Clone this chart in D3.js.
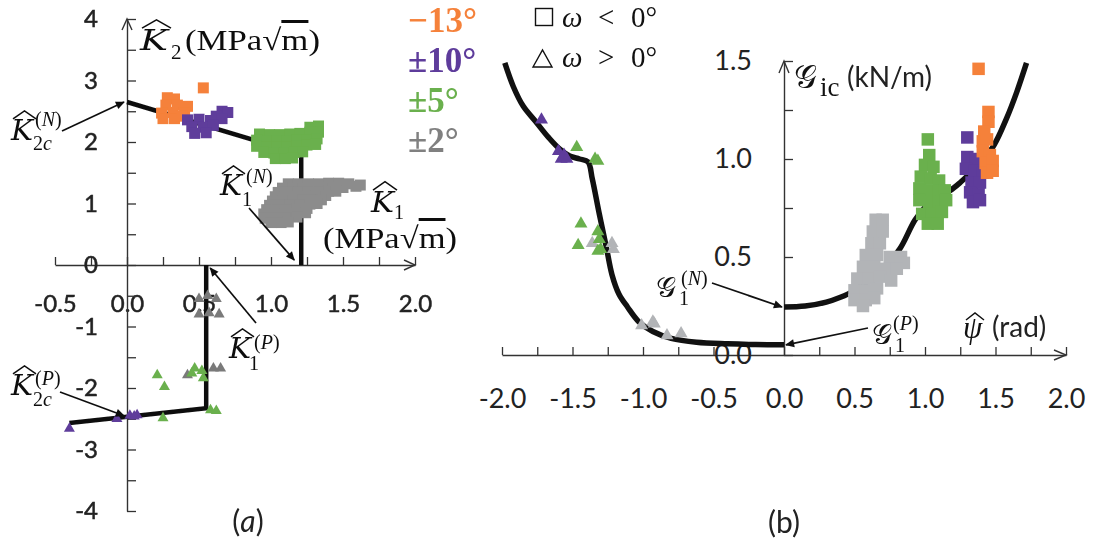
<!DOCTYPE html>
<html>
<head>
<meta charset="utf-8">
<script src="https://cdn.jsdelivr.net/npm/d3@7"></script>
<style>
  html, body { margin: 0; padding: 0; background: #fff; }
  svg { display: block; }
</style>
</head>
<body>
<svg id="fig" width="1096" height="549"></svg>
<script>
// ---------- Panel (a): K1-K2 plane ----------
const aTicksX = d3.range(-0.5, 2.001, 0.25);
const aTicksY = d3.range(-4, 4.001, 0.5);
// failure envelope, negative (N) and positive (P) branches
const aLineNeg = [[0, 2.65], [1.21, 1.80], [1.21, 0]];
const aLinePos = [[-0.40, -2.57], [0.55, -2.33], [0.55, 0]];
// omega < 0 (squares)
const aSqOrange = [[0.28,2.72],[0.33,2.70],[0.27,2.60],[0.35,2.60],[0.42,2.58],[0.24,2.47],[0.32,2.48],[0.40,2.47],[0.25,2.38],[0.33,2.38],[0.38,2.42],[0.53,2.88]];
const aSqPurple = [[0.66,2.50],[0.70,2.48],[0.62,2.42],[0.42,2.36],[0.50,2.37],[0.58,2.35],[0.66,2.38],[0.45,2.25],[0.53,2.24],[0.60,2.27],[0.47,2.14],[0.55,2.15]];
const aSqGreen = [[1.27,2.24],[1.33,2.26],
  [0.92,2.13],[0.99,2.12],[1.06,2.12],[1.13,2.13],[1.20,2.14],[1.27,2.16],[1.33,2.16],
  [0.90,2.03],[0.97,2.02],[1.04,2.02],[1.11,2.02],[1.18,2.03],[1.25,2.04],[1.32,2.05],
  [0.90,1.93],[0.97,1.92],[1.04,1.92],[1.11,1.92],[1.18,1.93],[1.25,1.95],[1.31,1.96],
  [0.95,1.83],[1.02,1.82],[1.09,1.82],[1.16,1.83],[1.22,1.84],
  [1.03,1.73],[1.10,1.73],[1.15,1.74]];
const aSqGray = [[1.12,1.32],[1.19,1.32],[1.26,1.32],[1.33,1.32],[1.40,1.33],[1.47,1.33],[1.54,1.32],[1.59,1.28],[1.62,1.30],
  [1.08,1.25],[1.15,1.25],[1.22,1.25],[1.29,1.26],[1.36,1.26],[1.43,1.26],[1.50,1.26],
  [1.05,1.18],[1.12,1.18],[1.19,1.18],[1.26,1.19],[1.33,1.19],[1.40,1.20],[1.45,1.20],
  [1.03,1.11],[1.10,1.11],[1.17,1.11],[1.24,1.12],[1.31,1.12],[1.38,1.13],
  [1.01,1.04],[1.08,1.04],[1.15,1.04],[1.22,1.05],[1.29,1.05],[1.35,1.06],
  [0.99,0.97],[1.06,0.97],[1.13,0.97],[1.20,0.98],[1.27,0.99],[1.32,1.00],
  [0.97,0.90],[1.04,0.90],[1.11,0.90],[1.18,0.91],[1.25,0.92],
  [0.95,0.83],[1.03,0.83],[1.10,0.83],[1.17,0.84],[1.24,0.85],
  [0.96,0.76],[1.03,0.76],[1.10,0.77],[1.18,0.78],
  [1.00,0.69],[1.07,0.69],[1.12,0.70]];
// omega > 0 (triangles)
const aTriGray = [[0.50,-0.55],[0.56,-0.50],[0.62,-0.55],[0.50,-0.80],[0.57,-0.78],[0.64,-0.80],[0.42,-1.79],[0.60,-1.68],[0.65,-1.68]];
const aTriGreen = [[0.21,-1.79],[0.26,-1.98],[0.47,-1.68],[0.45,-1.76],[0.53,-1.84],[0.52,-1.72],[0.58,-2.36],[0.62,-2.37],[0.25,-2.49]];
const aTriPurple = [[-0.40,-2.66],[-0.07,-2.50],[0.02,-2.45],[0.07,-2.44],[0.05,-2.46]];

// ---------- Panel (b): G_ic versus psi ----------
const bTicksX = d3.range(-2, 2.001, 0.25);
const bTicksY = d3.range(0, 1.501, 0.25);
const bCurveNeg = [[-1.98,1.49],[-1.92,1.37],[-1.85,1.27],[-1.76,1.19],[-1.67,1.11],[-1.59,1.05],[-1.52,1.015],[-1.45,1.0],[-1.39,0.985],[-1.36,0.90],[-1.31,0.72],[-1.26,0.55],[-1.22,0.41],[-1.17,0.31],[-1.11,0.245],[-1.03,0.17],[-0.93,0.12],[-0.80,0.085],[-0.62,0.065],[-0.40,0.057],[-0.20,0.053],[0,0.052]];
const bCurvePos = [[0,0.245],[0.15,0.25],[0.30,0.27],[0.40,0.295],[0.49,0.325],[0.60,0.38],[0.70,0.44],[0.82,0.54],[0.93,0.69],[1.02,0.77],[1.09,0.81],[1.18,0.84],[1.25,0.88],[1.35,0.95],[1.48,1.06],[1.58,1.21],[1.65,1.34],[1.72,1.49]];
const bSqGray = [[0.65,0.69],[0.70,0.69],[0.63,0.63],[0.70,0.63],[0.62,0.57],[0.68,0.57],[0.58,0.51],[0.66,0.51],[0.75,0.50],[0.83,0.50],[0.85,0.47],[0.56,0.45],[0.64,0.45],[0.72,0.44],[0.80,0.44],[0.52,0.39],[0.60,0.39],[0.68,0.40],[0.76,0.38],[0.50,0.33],[0.58,0.33],[0.66,0.34],[0.50,0.28],[0.58,0.28],[0.64,0.29],[0.56,0.25]];
const bSqGreen = [[1.02,1.10],[1.03,1.02],[1.00,0.97],[1.06,0.96],[0.97,0.91],[1.04,0.90],[1.10,0.89],[0.96,0.85],[1.03,0.84],[1.10,0.84],[1.14,0.84],[0.96,0.79],[1.03,0.78],[1.10,0.78],[1.15,0.79],[0.98,0.72],[1.05,0.72],[1.12,0.73],[1.02,0.67],[1.09,0.67]];
const bSqPurple = [[1.30,1.11],[1.30,1.01],[1.36,1.00],[1.29,0.95],[1.35,0.94],[1.41,0.93],[1.33,0.88],[1.39,0.88],[1.32,0.83],[1.38,0.82],[1.34,0.78],[1.39,0.79]];
const bSqOrange = [[1.38,1.46],[1.45,1.24],[1.45,1.19],[1.42,1.14],[1.41,1.09],[1.44,1.10],[1.41,1.04],[1.46,1.02],[1.43,0.98],[1.48,0.99],[1.44,0.93],[1.48,0.94]];
const bTriPurple = [[-1.72,1.20],[-1.60,1.04],[-1.56,1.02],[-1.58,1.00],[-1.54,1.00]];
const bTriGray = [[-1.36,0.57],[-1.22,0.57],[-1.21,0.54],[-1.01,0.15],[-0.93,0.17],[-0.92,0.16],[-0.83,0.10],[-0.73,0.11]];
const bTriGreen = [[-1.47,1.06],[-1.34,1.00],[-1.32,0.99],[-1.44,0.67],[-1.46,0.56],[-1.32,0.63],[-1.31,0.59],[-1.32,0.53],[-1.30,0.54]];

// legend
const legendLabels = ["\u221213\u00b0", "\u00b110\u00b0", "\u00b15\u00b0", "\u00b12\u00b0"];
const col = { orange: "#F5813A", purple: "#5E3C9B", green: "#6AB04D", grayA: "#8C8C8C", grayB: "#B2B4B7", grayText: "#808080", ink: "#111" };
const legendColors = [col.orange, col.purple, col.green, col.grayText];

const svg = d3.select("#fig");
const defs = svg.append("defs");
defs.append("filter").attr("id", "soft")
  .append("feGaussianBlur").attr("stdDeviation", 0.55);
defs.append("marker").attr("id", "ah")
  .attr("viewBox", "0 0 10 10").attr("refX", 9).attr("refY", 5)
  .attr("markerWidth", 11).attr("markerHeight", 9).attr("markerUnits", "userSpaceOnUse")
  .attr("orient", "auto")
  .append("path").attr("d", "M0,0.5L10,5L0,9.5Z").attr("fill", col.ink);

function txt(g, x, y, s, o = {}) {
  return g.append("text").attr("x", x).attr("y", y)
    .attr("font-family", o.family || "Liberation Serif")
    .attr("font-size", o.size || 28)
    .attr("font-style", o.italic ? "italic" : "normal")
    .attr("font-weight", o.bold ? "bold" : "normal")
    .attr("fill", o.fill || col.ink)
    .attr("text-anchor", o.anchor || "start")
    .text(s);
}
// italic capital with a wide hat, as in the K-hat symbols
function kHat(g, x, y, size, w) {
  g.append("path").attr("d", `M${x + 2},${y - size * 0.78}L${x + 2 + w / 2},${y - size * 1.08}L${x + 2 + w},${y - size * 0.78}`)
    .attr("fill", "none").attr("stroke", col.ink).attr("stroke-width", 1.5);
  return txt(g, x, y, "K", { italic: true, size: size, family: "DejaVu Serif" })
    .attr("textLength", w - 1).attr("lengthAdjust", "spacingAndGlyphs");
}
function hat(g, x, y, w, h) {
  g.append("path").attr("d", `M${x},${y + h}L${x + w / 2},${y}L${x + w},${y + h}`)
    .attr("fill", "none").attr("stroke", col.ink).attr("stroke-width", 1.5);
}
function paren(g, x, y, letter, size) {
  const t = txt(g, x, y, "(", { size: size });
  t.append("tspan").attr("font-style", "italic").text(letter);
  t.append("tspan").text(")");
  return t;
}
function pointer(g, x1, y1, x2, y2) {
  g.append("line").attr("x1", x1).attr("y1", y1).attr("x2", x2).attr("y2", y2)
    .attr("stroke", col.ink).attr("stroke-width", 1.7).attr("marker-end", "url(#ah)");
}
function styleAxis(g, size, heavy) {
  g.select(".domain").attr("stroke", "#333").attr("stroke-width", 1.4);
  g.selectAll(".tick line").attr("stroke", "#333").attr("stroke-width", 1.3);
  const t = g.selectAll(".tick text").attr("font-family", "Lato").attr("font-size", size).attr("fill", "#222");
  if (heavy) t.attr("stroke", "#222").attr("stroke-width", 0.5);
}
const isHalf = d => Math.abs(d * 2 - Math.round(d * 2)) < 1e-6;
const isInt = d => Math.abs(d - Math.round(d)) < 1e-6;
const sq = s => d3.symbol(d3.symbolSquare, s * s);
const tri = s => d3.symbol(d3.symbolTriangle, s * s * 0.433);

function marks(g, data, sx, sy, sym, fill) {
  g.append("g").selectAll("path").data(data).join("path")
    .attr("transform", d => `translate(${sx(d[0])},${sy(d[1])})`)
    .attr("d", sym()).attr("fill", fill);
}
function unitText(g, x, y, len) {
  const t = txt(g, x, y, "(MPa\u221A", { size: 30 });
  t.append("tspan").attr("text-decoration", "overline").text("m");
  t.append("tspan").text(")");
  t.attr("textLength", len).attr("lengthAdjust", "spacingAndGlyphs");
}

// ================= Panel (a) =================
const xA = d3.scaleLinear().domain([-0.5, 2]).range([55, 415]);
const yA = d3.scaleLinear().domain([-4, 4]).range([511, 19]);
const gA = svg.append("g").attr("filter", "url(#soft)");

const axAx = gA.append("g").attr("transform", `translate(0,${yA(0)})`)
  .call(d3.axisBottom(xA).tickValues(aTicksX).tickSize(-8).tickSizeOuter(0).tickPadding(30)
    .tickFormat(d => isHalf(d) ? d.toFixed(1) : ""));
styleAxis(axAx, 24, true);
const axAy = gA.append("g").attr("transform", `translate(${xA(0)},0)`)
  .call(d3.axisLeft(yA).tickValues(aTicksY).tickSize(-9).tickSizeOuter(0).tickPadding(29)
    .tickFormat(d => isInt(d) ? String(Math.round(d)) : ""));
styleAxis(axAy, 24, true);
// axis arrow heads
gA.append("path").attr("d", `M${xA(2) - 11},${yA(0) - 5}L${xA(2)},${yA(0)}L${xA(2) - 11},${yA(0) + 5}`)
  .attr("fill", "none").attr("stroke", "#333").attr("stroke-width", 1.4);
gA.append("path").attr("d", `M${xA(0) - 5},${yA(4) + 11}L${xA(0)},${yA(4)}L${xA(0) + 5},${yA(4) + 11}`)
  .attr("fill", "none").attr("stroke", "#333").attr("stroke-width", 1.4);

const lineA = d3.line().x(d => xA(d[0])).y(d => yA(d[1]));
[aLineNeg, aLinePos].forEach(L => gA.append("path").attr("d", lineA(L))
  .attr("fill", "none").attr("stroke", col.ink).attr("stroke-width", 4.5).attr("stroke-linejoin", "miter"));

marks(gA, aSqGray, xA, yA, () => sq(11)(), col.grayA);
marks(gA, aSqGreen, xA, yA, () => sq(11)(), col.green);
marks(gA, aSqOrange, xA, yA, () => sq(11)(), col.orange);
marks(gA, aSqPurple, xA, yA, () => sq(11)(), col.purple);
marks(gA, aTriGray, xA, yA, () => tri(11)(), "#7a7a7a");
marks(gA, aTriGreen, xA, yA, () => tri(11)(), col.green);
marks(gA, aTriPurple, xA, yA, () => tri(11)(), col.purple);

// axis titles
kHat(gA, 140, 50, 28, 29);
txt(gA, 171, 59, "2", { size: 21 });
unitText(gA, 185, 50, 135);
kHat(gA, 371, 212, 28, 24);
txt(gA, 394, 219, "1", { size: 20 });
unitText(gA, 323, 248, 134);

// K2c(N)
kHat(gA, 11, 140, 27, 23);
paren(gA, 35, 126, "N", 20);
txt(gA, 33, 150, "2", { size: 20 }).append("tspan").attr("font-style", "italic").text("c");
pointer(gA, 62, 131, xA(0) - 3, yA(2.65));

// K1(N)
kHat(gA, 220, 195, 27, 23);
paren(gA, 246, 183, "N", 20);
txt(gA, 242, 206, "1", { size: 20 });
pointer(gA, 249, 208, xA(1.21) - 7, yA(0) - 5);

// K1(P)
kHat(gA, 229, 358, 27, 23);
paren(gA, 254, 349, "P", 20);
txt(gA, 249, 370, "1", { size: 20 });
pointer(gA, 256, 323, xA(0.55) + 4, yA(0) + 3);

// K2c(P)
kHat(gA, 11, 395, 27, 23);
paren(gA, 35, 385, "P", 20);
txt(gA, 33, 406, "2", { size: 20 }).append("tspan").attr("font-style", "italic").text("c");
pointer(gA, 60, 392, xA(0) - 3, yA(-2.45));

const la = txt(gA, 248, 532, "(", { family: "Lato", size: 30, anchor: "middle", fill: "#222" });
la.append("tspan").attr("font-style", "italic").text("a");
la.append("tspan").text(")");

// ================= Legend =================
const gL = svg.append("g");
legendLabels.forEach((s, i) => txt(gL, 408, 32 + i * 40, s, { bold: true, size: 35, fill: legendColors[i] }));
gL.append("rect").attr("x", 535.5).attr("y", 8.5).attr("width", 17).attr("height", 17)
  .attr("fill", "none").attr("stroke", col.ink).attr("stroke-width", 1.4);
gL.append("path").attr("d", "M533,67L542.5,50L552,67Z")
  .attr("fill", "none").attr("stroke", col.ink).attr("stroke-width", 1.4);
[[27, "<"], [67, ">"]].forEach(([y, op]) => {
  txt(gL, 562, y, "\u03C9", { italic: true, size: 29 });
  txt(gL, 598, y, op, { size: 29 });
  txt(gL, 631, y, "0\u00b0", { size: 29 });
});

// ================= Panel (b) =================
const xB = d3.scaleLinear().domain([-2, 2]).range([502, 1066]);
const yB = d3.scaleLinear().domain([0, 1.5]).range([355, 61]);
const gB = svg.append("g");

const axBx = gB.append("g").attr("transform", `translate(0,${yB(0)})`)
  .call(d3.axisBottom(xB).tickValues(bTicksX).tickSize(-8).tickSizeOuter(0).tickPadding(34)
    .tickFormat(d => isHalf(d) ? d.toFixed(1) : ""));
styleAxis(axBx, 27, false);
const axBy = gB.append("g").attr("transform", `translate(${xB(0)},0)`)
  .call(d3.axisLeft(yB).tickValues(bTicksY).tickSize(-9).tickSizeOuter(0).tickPadding(32)
    .tickFormat(d => isHalf(d) ? d.toFixed(1) : ""));
styleAxis(axBy, 27, false);
gB.append("path").attr("d", `M${xB(2) - 12},${yB(0) - 5}L${xB(2)},${yB(0)}L${xB(2) - 12},${yB(0) + 5}`)
  .attr("fill", "none").attr("stroke", "#333").attr("stroke-width", 1.4);
gB.append("path").attr("d", `M${xB(0) - 5},${yB(1.5) + 12}L${xB(0)},${yB(1.5)}L${xB(0) + 5},${yB(1.5) + 12}`)
  .attr("fill", "none").attr("stroke", "#333").attr("stroke-width", 1.4);

const lineB = d3.line().x(d => xB(d[0])).y(d => yB(d[1])).curve(d3.curveCatmullRom.alpha(0.5));
[bCurveNeg, bCurvePos].forEach(L => gB.append("path").attr("d", lineB(L))
  .attr("fill", "none").attr("stroke", col.ink).attr("stroke-width", 5.5).attr("stroke-linecap", "butt"));

marks(gB, bSqGray, xB, yB, () => sq(12.5)(), col.grayB);
marks(gB, bSqGreen, xB, yB, () => sq(12.5)(), col.green);
marks(gB, bSqPurple, xB, yB, () => sq(12.5)(), col.purple);
marks(gB, bSqOrange, xB, yB, () => sq(12.5)(), col.orange);
marks(gB, bTriGray, xB, yB, () => tri(13)(), col.grayB);
marks(gB, bTriPurple, xB, yB, () => tri(13)(), col.purple);
marks(gB, bTriGreen, xB, yB, () => tri(13)(), col.green);

// axis titles
txt(gB, 794, 88, "\uD835\uDCA2", { size: 32, family: "DejaVu Serif" });
txt(gB, 820, 96, "ic", { size: 27 });
txt(gB, 847, 87, "(kN/m)", { family: "Lato", size: 28, fill: "#222" });
hat(gB, 966, 313, 18, 7);
txt(gB, 963, 338, "\u03C8", { italic: true, size: 31 });
txt(gB, 992, 337, "(rad)", { family: "Lato", size: 28, fill: "#222" });

// G1(N)
txt(gB, 656, 297, "\uD835\uDCA2", { size: 28, family: "DejaVu Serif" });
paren(gB, 681, 285, "N", 20);
txt(gB, 679, 305, "1", { size: 20 });
pointer(gB, 712, 283, xB(0) - 2, yB(0.245));

// G1(P)
txt(gB, 872, 344, "\uD835\uDCA2", { size: 28, family: "DejaVu Serif" });
paren(gB, 893, 330, "P", 20);
txt(gB, 895, 352, "1", { size: 20 });
pointer(gB, 868, 328, xB(0) + 2, yB(0.052));

txt(gB, 784, 533, "(b)", { family: "Lato", size: 30, anchor: "middle", fill: "#222" });
</script>
</body>
</html>
